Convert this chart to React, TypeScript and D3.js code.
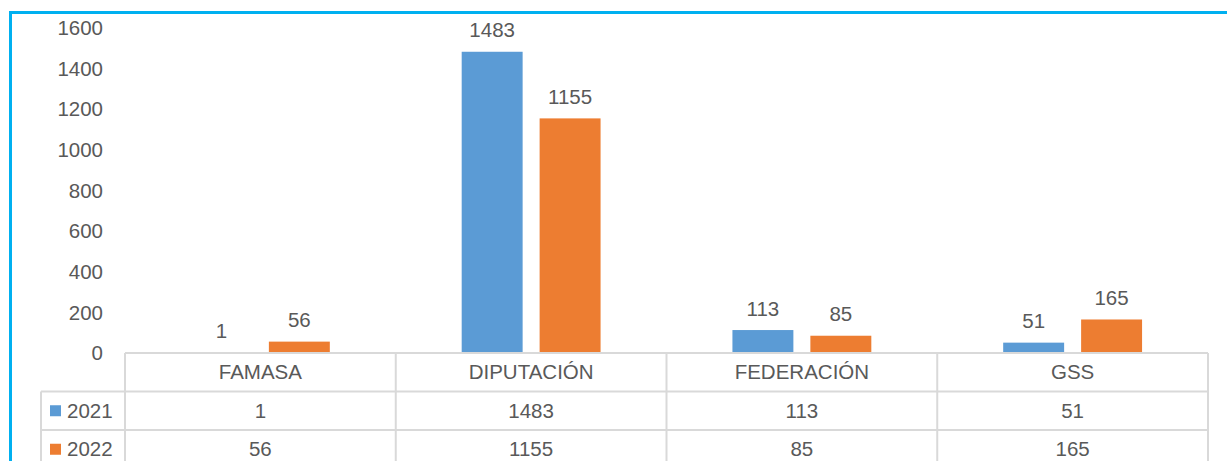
import React, { useEffect, useRef } from 'react';
import * as d3 from 'd3';

const categories = ['FAMASA', 'DIPUTACIÓN', 'FEDERACIÓN', 'GSS'];
const seriesNames = ['2021', '2022'];
const values2021 = [1, 1483, 113, 51];
const values2022 = [56, 1155, 85, 165];
const yTicks = [0, 200, 400, 600, 800, 1000, 1200, 1400, 1600];
const colors = ['#5B9BD5', '#ED7D31'];

const App = () => {
  const ref = useRef<SVGSVGElement | null>(null);

  useEffect(() => {
    const svg = d3.select(ref.current);
    svg.selectAll('*').remove();
    const font = '"Liberation Sans", Arial, sans-serif';
    const fs = 20.5;
    const textColor = '#595959';
    const gridColor = '#D9D9D9';

    const left = 125,
      right = 1208,
      top = 28,
      bottom = 353;
    const rowH = 38.5;

    const x = d3.scaleBand().domain(categories).range([left, right]);
    const x1 = d3
      .scaleBand()
      .domain(seriesNames)
      .range([0, x.bandwidth()])
      .paddingInner(0.218)
      .paddingOuter(0.846);
    const y = d3.scaleLinear().domain([0, 1600]).range([bottom, top]);

    const series = [values2021, values2022];

    // frame
    svg
      .append('path')
      .attr('d', `M10.5,461 L10.5,12.5 L1227,12.5`)
      .attr('fill', 'none')
      .attr('stroke', '#00B0F0')
      .attr('stroke-width', 3);

    // y labels
    svg
      .append('g')
      .selectAll('text')
      .data(yTicks)
      .join('text')
      .attr('x', 103)
      .attr('y', (d) => y(d))
      .attr('dy', '0.35em')
      .attr('text-anchor', 'end')
      .attr('font-family', font)
      .attr('font-size', fs)
      .attr('fill', textColor)
      .text((d) => d);

    // bars
    series.forEach((vals, si) => {
      const g = svg.append('g');
      g.selectAll('rect')
        .data(vals)
        .join('rect')
        .attr('x', (_, i) => x(categories[i])! + x1(seriesNames[si])!)
        .attr('y', (d) => y(d))
        .attr('width', x1.bandwidth())
        .attr('height', (d) => bottom - y(d))
        .attr('fill', colors[si]);
      g.selectAll('text')
        .data(vals)
        .join('text')
        .attr('x', (_, i) => x(categories[i])! + x1(seriesNames[si])! + x1.bandwidth() / 2)
        .attr('y', (d) => y(d) - 14.5)
        .attr('text-anchor', 'middle')
        .attr('font-family', font)
        .attr('font-size', fs)
        .attr('fill', textColor)
        .text((d) => d);
    });

    // data table
    const grid = svg.append('g').attr('stroke', gridColor).attr('stroke-width', 2);
    const tableBottom = bottom + rowH * 3;
    grid.append('line').attr('x1', left).attr('x2', right).attr('y1', bottom).attr('y2', bottom);
    [1, 2].forEach((r) => {
      grid
        .append('line')
        .attr('x1', 41)
        .attr('x2', right)
        .attr('y1', bottom + rowH * r)
        .attr('y2', bottom + rowH * r);
    });
    grid
      .append('line')
      .attr('x1', 41)
      .attr('x2', 41)
      .attr('y1', bottom + rowH)
      .attr('y2', tableBottom);
    [left, ...categories.map((c) => x(c)! + x.bandwidth())].forEach((xx) => {
      grid.append('line').attr('x1', xx).attr('x2', xx).attr('y1', bottom).attr('y2', tableBottom);
    });

    // header
    svg
      .append('g')
      .selectAll('text')
      .data(categories)
      .join('text')
      .attr('x', (d) => x(d)! + x.bandwidth() / 2)
      .attr('y', bottom + rowH / 2)
      .attr('dy', '0.35em')
      .attr('text-anchor', 'middle')
      .attr('font-family', font)
      .attr('font-size', fs)
      .attr('fill', textColor)
      .text((d) => d);

    series.forEach((vals, si) => {
      const rowY = bottom + rowH * (si + 1) + rowH / 2;
      svg
        .append('rect')
        .attr('x', 50)
        .attr('y', rowY - 5.5)
        .attr('width', 11)
        .attr('height', 11)
        .attr('fill', colors[si]);
      svg
        .append('text')
        .attr('x', 67)
        .attr('y', rowY)
        .attr('dy', '0.35em')
        .attr('font-family', font)
        .attr('font-size', fs)
        .attr('fill', textColor)
        .text(seriesNames[si]);
      svg
        .append('g')
        .selectAll('text')
        .data(vals)
        .join('text')
        .attr('x', (_, i) => x(categories[i])! + x.bandwidth() / 2)
        .attr('y', rowY)
        .attr('dy', '0.35em')
        .attr('text-anchor', 'middle')
        .attr('font-family', font)
        .attr('font-size', fs)
        .attr('fill', textColor)
        .text((d) => d);
    });
  }, []);

  return (
    <svg
      ref={ref}
      width={1227}
      height={461}
      style={{ position: 'absolute', left: 0, top: 0, background: '#fff' }}
    />
  );
};

export default App;
